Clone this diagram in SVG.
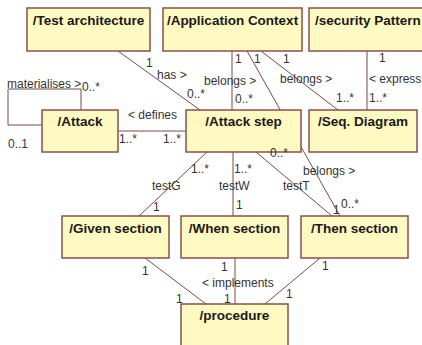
<svg xmlns="http://www.w3.org/2000/svg" width="422" height="345" viewBox="0 0 422 345">
<style>
.box{fill:#FFF9C2;stroke:#8C4F4A;stroke-width:1.5}
.t{font-family:"Liberation Sans",Arial,sans-serif;font-weight:bold;font-size:13.5px;fill:#1a1a1a;text-anchor:middle}
.c{fill:none;stroke:#7A4A45;stroke-width:1}
.l{font-family:"Liberation Sans",Arial,sans-serif;font-size:12px;fill:#333}
</style>
<rect width="422" height="345" fill="#fff"/>
<g id="connectors">
<path class="c" d="M118,51 L200,110"/>
<path class="c" d="M81,110 V89 H8 V125 H42"/>
<path class="c" d="M118,131 H186"/>
<path class="c" d="M232,51 V110"/>
<path class="c" d="M247,51 L340,216"/>
<path class="c" d="M261,51 L338,110"/>
<path class="c" d="M367,51 V110"/>
<path class="c" d="M207,152 L139,216"/>
<path class="c" d="M233,152 V216"/>
<path class="c" d="M256,152 L332,216"/>
<path class="c" d="M145,258 L206,304"/>
<path class="c" d="M235,258 V304"/>
<path class="c" d="M320,258 L265,304"/>
</g>
<g id="test-architecture"><rect class="box" x="27" y="8" width="123" height="43"/><text class="t" x="88.5" y="25">/Test architecture</text></g>
<g id="application-context"><rect class="box" x="163" y="8" width="139" height="43"/><text class="t" x="232.5" y="25">/Application Context</text></g>
<g id="security-pattern"><rect class="box" x="309" y="8" width="120" height="43"/><text class="t" x="315" y="25" style="text-anchor:start">/security Pattern</text></g>
<g id="attack"><rect class="box" x="42" y="110" width="76" height="42"/><text class="t" x="80" y="126">/Attack</text></g>
<g id="attack-step"><rect class="box" x="186" y="110" width="115" height="42"/><text class="t" x="243.5" y="126">/Attack step</text></g>
<g id="seq-diagram"><rect class="box" x="309" y="110" width="108" height="42"/><text class="t" x="363" y="126">/Seq. Diagram</text></g>
<g id="given-section"><rect class="box" x="62" y="216" width="107" height="42"/><text class="t" x="115.5" y="233">/Given section</text></g>
<g id="when-section"><rect class="box" x="181" y="216" width="107" height="42"/><text class="t" x="234.5" y="233">/When section</text></g>
<g id="then-section"><rect class="box" x="301" y="216" width="107" height="42"/><text class="t" x="354.5" y="233">/Then section</text></g>
<g id="procedure"><rect class="box" x="181" y="304" width="107" height="50"/><text class="t" x="234.5" y="320">/procedure</text></g>
<g id="connector-labels" class="l">
<text x="146" y="67">1</text>
<text x="157" y="79">has &gt;</text>
<text x="187" y="98">0..*</text>
<text x="7" y="88">materialises &gt;</text>
<text x="82" y="91">0..*</text>
<text x="8" y="148">0..1</text>
<text x="128" y="119">&lt; defines</text>
<text x="119" y="143">1..*</text>
<text x="163" y="143">1..*</text>
<text x="235" y="63">1</text>
<text x="204" y="85">belongs &gt;</text>
<text x="235" y="103">0..*</text>
<text x="254" y="63">1</text>
<text x="341" y="208">0..*</text>
<text x="303" y="175">belongs &gt;</text>
<text x="283" y="63">1</text>
<text x="280" y="83">belongs &gt;</text>
<text x="336" y="102">1..*</text>
<text x="379" y="62">1</text>
<text x="369" y="83">&lt; express</text>
<text x="369" y="102">1..*</text>
<text x="191" y="173">1..*</text>
<text x="152" y="190">testG</text>
<text x="153" y="211">1</text>
<text x="234" y="173">1..*</text>
<text x="219" y="190">testW</text>
<text x="236" y="209">1</text>
<text x="270" y="157">0..*</text>
<text x="283" y="190">testT</text>
<text x="333" y="214">1</text>
<text x="142" y="275">1</text>
<text x="176" y="303">1</text>
<text x="221" y="271">1</text>
<text x="202" y="287">&lt; implements</text>
<text x="224" y="303">1</text>
<text x="322" y="270">1</text>
<text x="286" y="298">1</text>
</g>
</svg>
